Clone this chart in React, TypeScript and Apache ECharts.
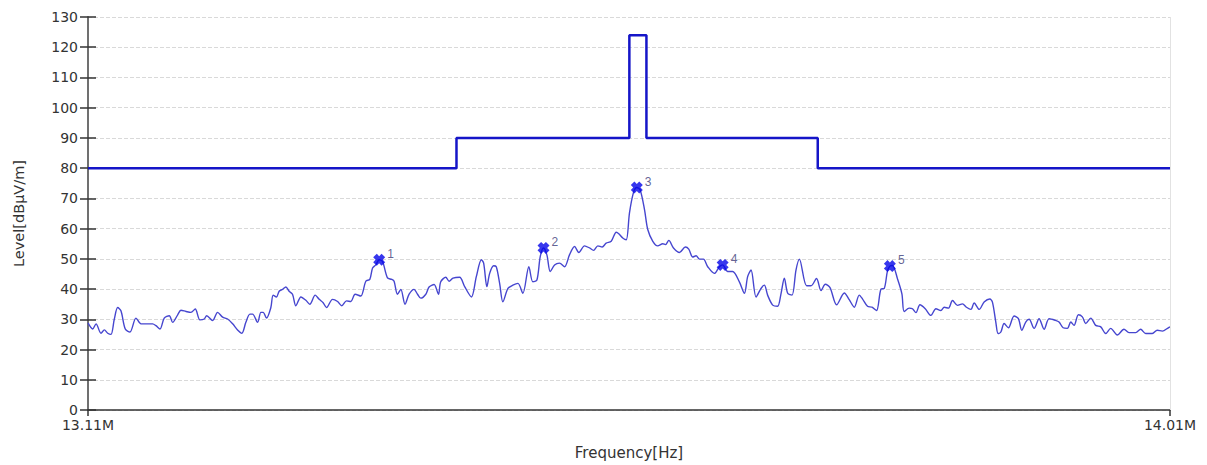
import React, { useEffect, useRef } from "react";
import * as echarts from "echarts";

// Measured trace: frequency [MHz] and level [dBµV/m]
const traceFreq = [
  13.11, 13.1139, 13.1167, 13.1208, 13.1236, 13.1264, 13.1291, 13.1319, 13.1347, 13.1374,
  13.141, 13.1449, 13.1499, 13.1541, 13.1582, 13.1638, 13.1665, 13.1699, 13.1734, 13.1776,
  13.1804, 13.1846, 13.1873, 13.1915, 13.1956, 13.1992, 13.2031, 13.2067, 13.2087, 13.2137,
  13.2178, 13.222, 13.2261, 13.2303, 13.2344, 13.238, 13.2413, 13.2447, 13.2469, 13.2511,
  13.2538, 13.2557, 13.2585, 13.2621, 13.264, 13.2668, 13.269, 13.2718, 13.2746, 13.2773,
  13.2801, 13.2829, 13.2871, 13.2912, 13.2945, 13.299, 13.3023, 13.3056, 13.3084, 13.3134,
  13.3176, 13.3211, 13.325, 13.3286, 13.3322, 13.3369, 13.3411, 13.3444, 13.3467, 13.3494,
  13.3522, 13.355, 13.3591, 13.3627, 13.3646, 13.3674, 13.3702, 13.3737, 13.3771, 13.3812,
  13.3841, 13.3868, 13.391, 13.3937, 13.3979, 13.4015, 13.4034, 13.4076, 13.4104, 13.4136,
  13.4191, 13.4233, 13.4289, 13.433, 13.4372, 13.4391, 13.4418, 13.4441, 13.4474, 13.4496,
  13.4524, 13.4551, 13.4593, 13.4634, 13.4676, 13.4717, 13.4767, 13.48, 13.4834, 13.4862,
  13.4889, 13.4917, 13.4945, 13.4981, 13.5022, 13.5064, 13.5105, 13.5147, 13.5183, 13.523,
  13.5272, 13.5305, 13.5341, 13.5377, 13.541, 13.5452, 13.5494, 13.5515, 13.5548, 13.5577,
  13.5604, 13.5637, 13.5665, 13.5693, 13.5729, 13.5756, 13.5798, 13.5839, 13.5881, 13.5903,
  13.5931, 13.597, 13.602, 13.6069, 13.6097, 13.613, 13.6158, 13.6186, 13.6219, 13.6255,
  13.631, 13.6352, 13.6379, 13.6421, 13.6462, 13.6518, 13.656, 13.6587, 13.6615, 13.6657,
  13.6698, 13.6726, 13.6753, 13.6795, 13.6836, 13.6865, 13.6892, 13.692, 13.6956, 13.6989,
  13.7017, 13.7077, 13.7114, 13.716, 13.7197, 13.7233, 13.7272, 13.7327, 13.7391, 13.7432,
  13.7474, 13.7515, 13.7543, 13.7584, 13.7621, 13.7659, 13.7696, 13.7723, 13.775, 13.777,
  13.7792, 13.7834, 13.787, 13.7889, 13.7931, 13.7958, 13.7987, 13.802, 13.8064, 13.8111,
  13.8153, 13.8194, 13.8222, 13.8257, 13.8291, 13.8332, 13.8374, 13.8407, 13.8444, 13.8471,
  13.8513, 13.8554, 13.8601, 13.8623, 13.8651, 13.867, 13.8693, 13.872, 13.8756, 13.8803,
  13.8839, 13.8867, 13.89, 13.8928, 13.897, 13.9011, 13.9053, 13.9094, 13.9144, 13.9177,
  13.9211, 13.9246, 13.9275, 13.9302, 13.9338, 13.9371, 13.9399, 13.9441, 13.9482, 13.9524,
  13.9565, 13.9607, 13.9662, 13.9717, 13.9759, 13.9815, 13.9856, 13.9898, 13.9953, 13.9994,
  14.0036, 14.0086, 14.01,
];
const traceLevel = [
  28.8, 26.8, 28.5, 25.4, 26.5, 25.4, 25.0, 30.1, 33.9, 32.8,
  26.8, 25.8, 30.4, 28.5, 28.5, 28.5, 27.9, 26.8, 30.4, 31.2,
  29.0, 31.5, 33.0, 32.6, 32.3, 33.4, 29.8, 30.1, 31.2, 29.6,
  32.3, 30.7, 30.1, 28.5, 26.5, 25.4, 29.0, 31.7, 31.7, 29.0,
  32.3, 32.3, 30.4, 33.9, 38.0, 37.4, 39.3, 39.9, 40.7, 39.3,
  38.3, 34.5, 37.4, 36.3, 35.0, 38.0, 36.6, 35.5, 33.9, 36.6,
  35.9, 34.5, 36.1, 35.9, 38.3, 37.7, 42.6, 43.2, 47.0, 48.0,
  49.7, 49.1, 43.7, 43.2, 42.6, 38.3, 39.9, 35.0, 38.3, 39.9,
  38.3, 37.0, 38.3, 40.7, 41.5, 38.3, 42.4, 43.9, 42.6, 43.6,
  43.9, 40.8, 37.4, 44.1, 49.7, 48.6, 40.8, 45.2, 47.7, 47.4,
  41.9, 35.8, 40.2, 41.3, 41.9, 38.6, 47.4, 42.4, 43.0, 50.8,
  53.6, 51.3, 45.8, 48.0, 48.6, 47.4, 51.3, 54.1, 52.1, 54.3,
  53.6, 52.8, 54.3, 53.9, 55.2, 55.8, 58.8, 58.3, 56.9, 56.3,
  65.2, 71.9, 73.6, 72.8, 66.3, 59.7, 55.8, 54.3, 55.0, 54.7,
  56.1, 53.6, 52.1, 53.9, 53.2, 50.6, 51.0, 49.9, 49.9, 47.4,
  45.2, 47.4, 48.0, 45.8, 45.8, 42.4, 38.6, 44.1, 46.3, 37.4,
  40.2, 41.3, 38.0, 34.7, 34.3, 38.6, 43.6, 38.6, 38.0, 46.3,
  49.9, 41.1, 41.1, 43.5, 39.5, 41.6, 40.5, 34.8, 38.7, 36.5,
  34.0, 38.0, 36.7, 34.3, 34.0, 32.9, 40.0, 40.2, 46.0, 47.6,
  47.8, 43.3, 38.4, 32.6, 33.7, 33.5, 32.2, 34.8, 33.5, 31.3,
  33.5, 32.9, 34.0, 33.7, 36.2, 34.6, 35.1, 34.0, 33.3, 35.4,
  33.3, 35.7, 36.7, 35.7, 29.1, 25.3, 25.8, 28.6, 27.2, 31.1,
  30.2, 26.4, 29.1, 30.0, 27.0, 30.2, 26.7, 30.2, 29.7, 29.1,
  27.2, 27.0, 29.1, 28.0, 31.5, 30.8, 28.6, 30.4, 28.0, 27.5,
  25.3, 27.0, 24.8, 26.7, 25.6, 25.6, 26.7, 25.3, 25.3, 26.4,
  26.1, 27.2, 27.5,
];

// Limit line (step shape)
const limitFreq = [13.11, 13.4165, 13.4165, 13.5603, 13.5603, 13.5745, 13.5745, 13.717, 13.717, 14.01];
const limitLevel = [80, 80, 90, 90, 124, 124, 90, 90, 80, 80];

// Peak markers
const markerFreq = [13.3522, 13.4889, 13.5665, 13.6379, 13.777];
const markerLevel = [49.7, 53.6, 73.6, 48.0, 47.6];
const markerLabels = ["1", "2", "3", "4", "5"];

// Axis ticks
const xTickValues = [13.11, 14.01];
const yMin = 0;
const yMax = 130;
const yInterval = 10;

const FONT_WIDE = "'DejaVu Sans', Verdana, sans-serif";
const FONT = "'Liberation Sans', Arial, sans-serif";
const X_SYMBOL =
  "path://M0,3 L3,0 L5,2 L7,0 L10,3 L8,5 L10,7 L7,10 L5,8 L3,10 L0,7 L2,5 Z";

export default function App() {
  const ref = useRef<HTMLDivElement>(null);

  useEffect(() => {
    document.body.style.margin = "0";
    if (!ref.current) return;
    const chart = echarts.init(ref.current, undefined, { renderer: "svg" });

    const trace = traceFreq.map((f, i) => [f, traceLevel[i]]);
    const limit = limitFreq.map((f, i) => [f, limitLevel[i]]);
    const markers = markerFreq.map((f, i) => ({ value: [f, markerLevel[i]], name: markerLabels[i] }));

    chart.setOption({
      animation: false,
      backgroundColor: "#ffffff",
      grid: { left: 88, right: 37, top: 17, bottom: 55 },
      xAxis: {
        type: "value",
        min: xTickValues[0],
        max: xTickValues[xTickValues.length - 1],
        name: "Frequency[Hz]",
        nameLocation: "middle",
        nameGap: 35,
        nameTextStyle: { fontFamily: FONT_WIDE, fontSize: 15, color: "#333" },
        axisLine: { show: true, onZero: false, lineStyle: { color: "#333", width: 1.5 } },
        axisTick: { show: true, length: 6, customValues: xTickValues, lineStyle: { color: "#333", width: 1.5 } },
        axisLabel: {
          customValues: xTickValues,
          formatter: (v: number) => v.toFixed(2) + "M",
          fontFamily: FONT_WIDE,
          fontSize: 14,
          color: "#333",
          margin: 8,
        },
        splitLine: { show: false },
      },
      yAxis: [
        {
          type: "value",
          min: yMin,
          max: yMax,
          interval: yInterval,
          name: "Level[dBµV/m]",
          nameLocation: "middle",
          nameGap: 62,
          nameTextStyle: { fontFamily: FONT_WIDE, fontSize: 14.5, color: "#333" },
          axisLine: { show: true, lineStyle: { color: "#707070", width: 2 } },
          axisTick: { show: true, length: 8, lineStyle: { color: "#333", width: 1.5 } },
          axisLabel: { fontFamily: FONT_WIDE, fontSize: 14, color: "#333", margin: 10 },
          splitLine: { show: true, lineStyle: { color: "#d9d9d9", type: "dashed", width: 1 } },
        },
        {
          type: "value",
          position: "left",
          min: yMin,
          max: yMax,
          interval: yInterval,
          axisLine: { show: false },
          axisTick: { show: true, inside: true, length: 8, lineStyle: { color: "#333", width: 1.5 } },
          axisLabel: { show: false },
          splitLine: { show: false },
        },
      ],
      series: [
        {
          type: "line",
          name: "limit",
          data: limit,
          symbol: "none",
          lineStyle: { color: "#1515c8", width: 2.5 },
          z: 3,
          markLine: {
            silent: true,
            symbol: "none",
            label: { show: false },
            lineStyle: { color: "#e2e2e2", type: "solid", width: 1 },
            data: [{ xAxis: xTickValues[1] }],
          },
        },
        {
          type: "line",
          name: "trace",
          data: trace,
          symbol: "none",
          smooth: 0.3,
          lineStyle: { color: "#4646cf", width: 1.4 },
          z: 4,
        },
        {
          type: "scatter",
          name: "markers",
          data: markers,
          symbol: X_SYMBOL,
          symbolSize: 12,
          itemStyle: { color: "#0505e8" },
          label: {
            show: true,
            position: "right",
            distance: 2,
            offset: [0, -6],
            formatter: (p: any) => p.name,
            fontFamily: FONT,
            fontSize: 12,
            color: "#3a3a78",
          },
          z: 5,
        },
      ],
    });

    return () => chart.dispose();
  }, []);

  return <div ref={ref} style={{ width: 1207, height: 465 }} />;
}
